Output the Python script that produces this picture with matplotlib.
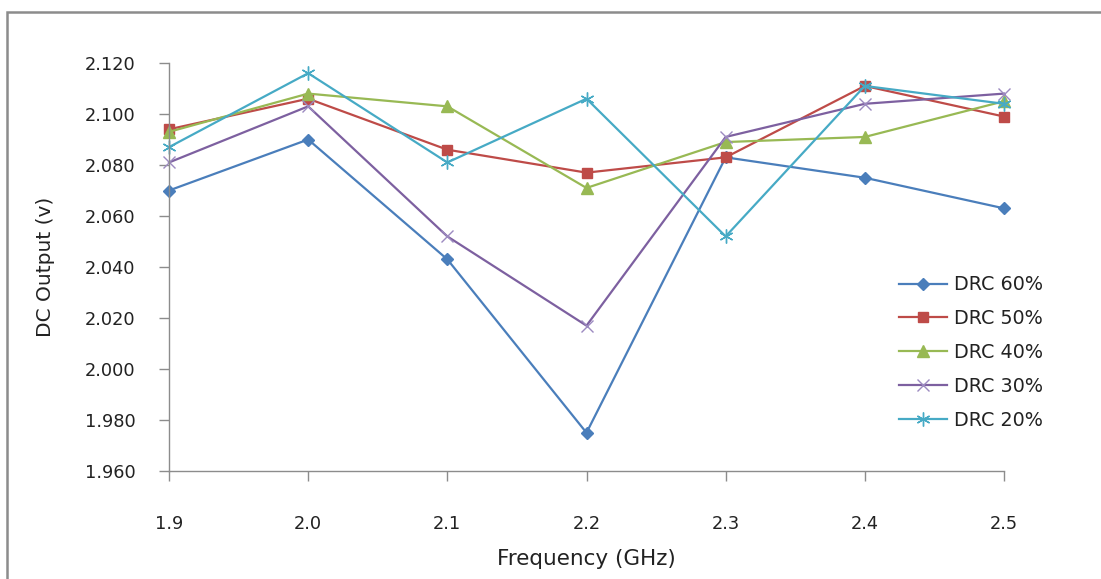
import matplotlib
matplotlib.use('Agg')
import matplotlib.pyplot as plt
from matplotlib.patches import Rectangle

plt.rcParams['font.family'] = ['DejaVu Sans']

freq = [1.9, 2.0, 2.1, 2.2, 2.3, 2.4, 2.5]
drc60 = [2.070, 2.090, 2.043, 1.975, 2.083, 2.075, 2.063]
drc50 = [2.094, 2.106, 2.086, 2.077, 2.083, 2.111, 2.099]
drc40 = [2.093, 2.108, 2.103, 2.071, 2.089, 2.091, 2.105]
drc30 = [2.081, 2.103, 2.052, 2.017, 2.091, 2.104, 2.108]
drc20 = [2.087, 2.116, 2.081, 2.106, 2.052, 2.111, 2.104]
yticks = [1.960, 1.980, 2.000, 2.020, 2.040, 2.060, 2.080, 2.100, 2.120]

fig = plt.figure(figsize=(11.01, 5.79), dpi=100)
ax = fig.add_axes([169/1101, 1 - 471/579, (1004 - 169)/1101, (471 - 63)/579])

# outer chart frame
fig.patches.append(Rectangle((7/1101, -0.1), 1.2, 1 - 12/579 + 0.1,
                             transform=fig.transFigure, fill=False,
                             edgecolor='#8c8c8c', linewidth=1.8))

lw = 1.6
ax.plot(freq, drc60, color='#4A7EBB', lw=lw, marker='D', ms=6.5, clip_on=False, label='DRC 60%')
ax.plot(freq, drc50, color='#BE4B48', lw=lw, marker='s', ms=7.5, clip_on=False, label='DRC 50%')
ax.plot(freq, drc40, color='#98B954', lw=lw, marker='^', ms=8, clip_on=False, label='DRC 40%')
ax.plot(freq, drc30, color='#7D60A0', lw=lw, marker='x', ms=8, mew=1.0,
        markeredgecolor='#9C8AC0', clip_on=False, label='DRC 30%')
ax.plot(freq, drc20, color='#46AAC5', lw=lw, marker=(6, 2, 0), ms=10, mew=1.0,
        clip_on=False, label='DRC 20%')

ax.set_xlim(1.9, 2.5)
ax.set_ylim(1.960, 2.120)
ax.set_xticks(freq)
ax.set_xticklabels(['%.1f' % f for f in freq])
ax.set_yticks(yticks)
ax.set_yticklabels(['%.3f' % y for y in yticks])

for s in ['top', 'right']:
    ax.spines[s].set_visible(False)
for s in ['left', 'bottom']:
    ax.spines[s].set_color('#8c8c8c')
    ax.spines[s].set_linewidth(1.0)
ax.tick_params(axis='both', colors='#8c8c8c', labelcolor='#222222',
               labelsize=12.8, length=7, width=1.0, direction='out')
ax.tick_params(axis='x', pad=25)
ax.tick_params(axis='y', pad=17)

ax.set_xlabel('Frequency (GHz)', fontsize=15.5, color='#222222')
ax.set_ylabel('DC Output (v)', fontsize=14.5, color='#222222')
ax.xaxis.set_label_coords(0.5, (471 - 549) / 408)
ax.yaxis.set_label_coords((55 - 169) / 835, 0.5)

leg = ax.legend(loc='upper left', bbox_to_anchor=(882/1101, 1 - 258/579),
                bbox_transform=fig.transFigure, frameon=False, fontsize=13.8,
                labelspacing=0.78, handlelength=2.5, handletextpad=0.35)
for t in leg.get_texts():
    t.set_color('#222222')

fig.savefig('out.png', dpi=100)
